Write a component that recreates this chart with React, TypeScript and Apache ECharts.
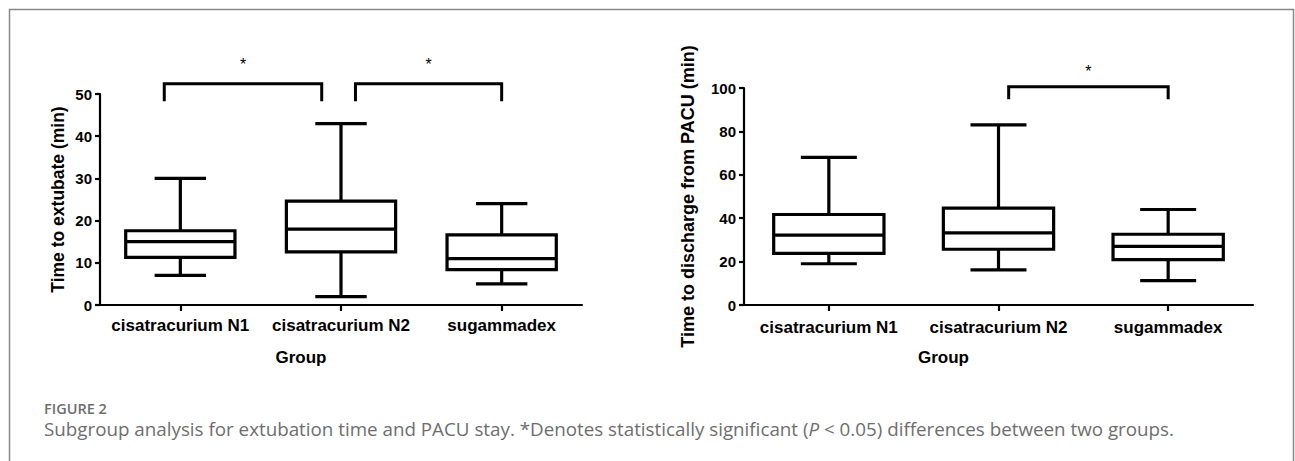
import React, { useEffect, useRef } from "react";
import * as echarts from "echarts";

// ---- data ----
const categories = ["cisatracurium N1", "cisatracurium N2", "sugammadex"];
// [min, Q1, median, Q3, max]
const extubateStats = [
  [7, 11.3, 15, 17.6, 30],
  [2, 12.6, 18, 24.6, 43],
  [5, 8.4, 11, 16.6, 24],
];
const pacuStats = [
  [19, 23.8, 32.2, 41.7, 68],
  [16.2, 25.7, 33.2, 44.6, 83],
  [11.2, 20.9, 27, 32.6, 44],
];
const extubateTicks = { min: 0, max: 50, interval: 10 };
const pacuTicks = { min: 0, max: 100, interval: 20 };
// significant pairs [fromGroup, toGroup]
const extubatePairs = [[0, 1], [1, 2]];
const pacuPairs = [[1, 2]];
const sigMark = "*";
const leftTitle = "Time to extubate (min)";
const rightTitle = "Time to discharge from PACU (min)";
const xTitle = "Group";
const figLabel = "FIGURE 2";
const captionText =
  "Subgroup analysis for extubation time and PACU stay. *Denotes statistically significant ({i|P} < 0.05) differences between two groups.";

// ---- style constants ----
const FONT = "'Liberation Sans', Arial, sans-serif";
const CAP_FONT = "'Open Sans', 'Noto Sans', sans-serif";
const CAP_COLOR = "#6e6e6e";
const extBracket = { top: 52.4, tip: 48.3, star: 57.0, nudges: [[-0.1, -0.12], [0.09, 0.0]] };
const pacuBracket = { top: 100.6, tip: 94.8, star: 107.5, nudges: [[0.06, 0.0]] };

function boxRender(widthFrac: number, capFrac: number) {
  return (params: any, api: any) => {
    const idx = api.value(0);
    const min = api.value(1), q1 = api.value(2), med = api.value(3), q3 = api.value(4), max = api.value(5);
    const cx = api.coord([idx, 0])[0];
    const band = api.size([1, 0])[0];
    const bw = band * widthFrac;
    const cw = band * capFrac;
    const y = (v: number) => api.coord([idx, v])[1];
    const ls = { stroke: "#000", lineWidth: 3.2, fill: "none" };
    return {
      type: "group",
      children: [
        { type: "line", shape: { x1: cx, y1: y(max), x2: cx, y2: y(q3) }, style: ls },
        { type: "line", shape: { x1: cx, y1: y(min), x2: cx, y2: y(q1) }, style: ls },
        { type: "line", shape: { x1: cx - cw / 2, y1: y(max), x2: cx + cw / 2, y2: y(max) }, style: ls },
        { type: "line", shape: { x1: cx - cw / 2, y1: y(min), x2: cx + cw / 2, y2: y(min) }, style: ls },
        {
          type: "rect",
          shape: { x: cx - bw / 2, y: y(q3), width: bw, height: y(q1) - y(q3) },
          style: { stroke: "#000", lineWidth: 3.2, fill: "#fff" },
        },
        { type: "line", shape: { x1: cx - bw / 2, y1: y(med), x2: cx + bw / 2, y2: y(med) }, style: ls },
      ],
    };
  };
}

function bracketRender(cfg: any) {
  return (params: any, api: any) => {
    const i = params.dataIndex;
    const from = api.value(0);
    const to = api.value(1);
    const band = api.size([1, 0])[0];
    const [n0, n1] = cfg.nudges[i];
    const x0 = api.coord([from, 0])[0] + n0 * band;
    const x1 = api.coord([to, 0])[0] + n1 * band;
    const yTop = api.coord([from, cfg.top])[1];
    const yTip = api.coord([from, cfg.tip])[1];
    const yStar = api.coord([from, cfg.star])[1];
    return {
      type: "group",
      children: [
        {
          type: "polyline",
          shape: { points: [[x0, yTip], [x0, yTop], [x1, yTop], [x1, yTip]] },
          style: { stroke: "#000", lineWidth: 3, fill: "none" },
        },
        {
          type: "text",
          style: {
            text: sigMark,
            x: (x0 + x1) / 2,
            y: yStar,
            align: "center",
            verticalAlign: "middle",
            fontSize: 16,
            fontFamily: FONT,
            fill: "#000",
          },
        },
      ],
    };
  };
}

function yAxisCfg(grid: number, ticks: any, name: string, gap: number, size: number) {
  return {
    type: "value",
    gridIndex: grid,
    min: ticks.min,
    max: ticks.max,
    interval: ticks.interval,
    name,
    nameLocation: "middle",
    nameGap: gap,
    nameTextStyle: { fontSize: size, fontWeight: "bold", fontFamily: FONT, color: "#000" },
    axisLine: { show: true, lineStyle: { color: "#000", width: 2.2 } },
    axisTick: { show: true, length: 5, lineStyle: { color: "#000", width: 2.2 } },
    axisLabel: { fontSize: 15, fontWeight: "bold", fontFamily: FONT, color: "#000", margin: 8 },
    splitLine: { show: false },
  };
}

function xAxisCfg(grid: number, shift: number, margin: number) {
  return {
    type: "category",
    gridIndex: grid,
    data: categories,
    boundaryGap: true,
    name: xTitle,
    nameLocation: "middle",
    nameGap: 44,
    nameTextStyle: {
      fontSize: 17,
      fontWeight: "bold",
      fontFamily: FONT,
      color: "#000",
      padding: [0, shift * 2, 0, 0],
    },
    axisLine: { show: true, lineStyle: { color: "#000", width: 2.2 } },
    axisTick: { show: true, alignWithLabel: true, length: 6, lineStyle: { color: "#000", width: 2.2 } },
    axisLabel: { fontSize: 17, fontWeight: "bold", fontFamily: FONT, color: "#000", margin, interval: 0 },
    splitLine: { show: false },
  };
}

export default function App() {
  const ref = useRef<HTMLDivElement>(null);
  useEffect(() => {
    if (!ref.current) return;
    const chart = echarts.init(ref.current, null, { renderer: "svg" });
    chart.setOption({
      animation: false,
      backgroundColor: "#fff",
      grid: [
        { left: 100, top: 94, width: 482, height: 211 },
        { left: 744, top: 88, width: 509, height: 217 },
      ],
      xAxis: [xAxisCfg(0, 40, 12), xAxisCfg(1, 55, 14)],
      yAxis: [
        yAxisCfg(0, extubateTicks, leftTitle, 33, 17.5),
        yAxisCfg(1, pacuTicks, rightTitle, 47, 18),
      ],
      series: [
        {
          type: "custom",
          xAxisIndex: 0,
          yAxisIndex: 0,
          renderItem: boxRender(0.68, 0.32),
          encode: { x: 0, y: [1, 2, 3, 4, 5] },
          data: extubateStats.map((s, i) => [i, ...s]),
        },
        {
          type: "custom",
          xAxisIndex: 1,
          yAxisIndex: 1,
          renderItem: boxRender(0.65, 0.33),
          encode: { x: 0, y: [1, 2, 3, 4, 5] },
          data: pacuStats.map((s, i) => [i, ...s]),
        },
        {
          type: "custom",
          xAxisIndex: 0,
          yAxisIndex: 0,
          renderItem: bracketRender(extBracket),
          encode: { x: 0 },
          data: extubatePairs,
        },
        {
          type: "custom",
          xAxisIndex: 1,
          yAxisIndex: 1,
          renderItem: bracketRender(pacuBracket),
          encode: { x: 0 },
          data: pacuPairs,
        },
      ],
      graphic: [
        {
          type: "rect",
          shape: { x: 9.5, y: 9.5, width: 1284, height: 600 },
          style: { stroke: "#888", lineWidth: 1.5, fill: "none" },
          silent: true,
        },
        {
          type: "text",
          x: 44,
          y: 408,
          style: {
            text: figLabel,
            fontSize: 14.5,
            fontWeight: 600,
            fontFamily: CAP_FONT,
            fill: CAP_COLOR,
            verticalAlign: "middle",
          },
        },
        {
          type: "text",
          x: 44,
          y: 429,
          style: {
            text: captionText,
            fontSize: 18.8,
            fontFamily: CAP_FONT,
            fill: CAP_COLOR,
            verticalAlign: "middle",
            rich: { i: { fontStyle: "italic", fontSize: 18.8, fontFamily: CAP_FONT, fill: CAP_COLOR } },
          },
        },
      ],
    });
    return () => chart.dispose();
  }, []);
  return (
    <div
      ref={ref}
      style={{ position: "absolute", left: 0, top: 0, width: 1295, height: 461 }}
    />
  );
}
